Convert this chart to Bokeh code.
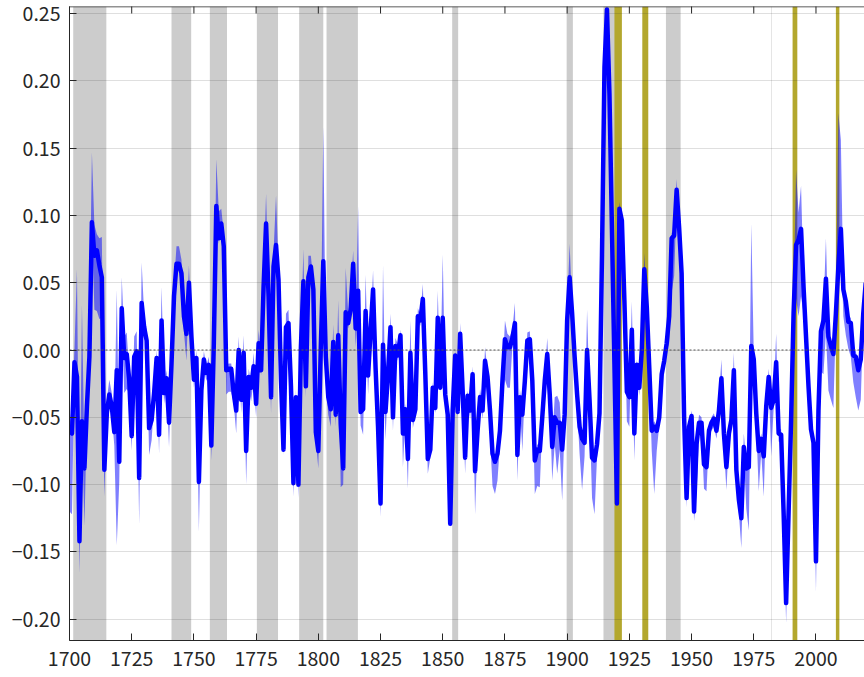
from bokeh.plotting import figure
from bokeh.models import FixedTicker, Span, Range1d
from bokeh.embed import file_html
from bokeh.resources import INLINE

# ---------------- data ----------------
first_year = 1700
values = [
    -0.060, -0.062, -0.009, -0.020, -0.142, -0.053, -0.088, -0.042, -0.005, 0.095,   # 1700s
    0.070, 0.074, 0.063, 0.054, -0.089, -0.047, -0.033, -0.042, -0.061, -0.015,      # 1710s
    -0.083, 0.031, -0.006, -0.003, -0.022, -0.064, -0.005, -0.001, -0.095, 0.035,    # 1720s
    0.017, 0.007, -0.058, -0.052, -0.032, -0.006, -0.063, 0.022, -0.032, -0.021,     # 1730s
    -0.054, -0.010, 0.040, 0.064, 0.064, 0.057, 0.025, 0.012, 0.050, 0.010,          # 1740s
    -0.022, -0.006, -0.098, -0.030, -0.007, -0.017, -0.011, -0.071, 0.005, 0.107,    # 1750s
    0.083, 0.094, 0.077, -0.015, -0.014, -0.014, -0.032, -0.045, 0.000, -0.037,      # 1760s
    -0.002, -0.075, -0.020, -0.028, -0.012, -0.040, 0.005, -0.015, 0.047, 0.094,     # 1770s
    0.040, -0.035, 0.062, 0.078, 0.052, -0.022, -0.074, 0.017, 0.020, -0.027,        # 1780s
    -0.099, -0.035, -0.100, 0.002, 0.051, -0.027, 0.054, 0.062, 0.045, -0.061,       # 1790s
    -0.075, 0.002, 0.066, -0.005, -0.035, -0.044, 0.006, -0.048, 0.011, -0.055,      # 1800s
    -0.088, 0.028, 0.020, 0.030, 0.064, 0.016, 0.044, -0.046, -0.044, 0.029,         # 1810s
    -0.019, 0.014, 0.045, -0.013, -0.057, -0.114, 0.004, -0.046, -0.018, 0.017,      # 1820s
    -0.050, 0.003, -0.004, 0.011, -0.062, -0.044, -0.081, -0.002, -0.052, -0.044,    # 1830s
    0.025, 0.022, 0.038, -0.018, -0.081, -0.074, -0.028, -0.043, 0.024, -0.028,      # 1840s
    0.024, -0.033, -0.048, -0.129, -0.045, -0.004, -0.046, 0.012, -0.030, -0.080,    # 1850s
    -0.034, -0.045, -0.018, -0.090, -0.060, -0.035, -0.045, -0.008, -0.020, -0.045,  # 1860s
    -0.077, -0.083, -0.077, -0.060, -0.023, 0.008, 0.002, 0.002, 0.009, 0.020,       # 1870s
    -0.078, -0.035, -0.048, -0.023, 0.007, 0.008, -0.023, -0.082, -0.074, -0.075,    # 1880s
    -0.050, -0.023, -0.003, -0.033, -0.072, -0.050, -0.054, -0.054, -0.074, -0.048,  # 1890s
    0.022, 0.054, 0.027, -0.005, -0.033, -0.057, -0.066, -0.069, 0.000, -0.037,      # 1900s
    -0.080, -0.082, -0.070, -0.047, 0.070, 0.210, 0.253, 0.190, 0.090, -0.010,       # 1910s
    -0.114, 0.105, 0.096, 0.037, -0.031, -0.035, 0.015, -0.062, -0.011, -0.028,      # 1920s
    0.000, 0.060, 0.032, -0.013, -0.060, -0.057, -0.060, -0.050, -0.018, -0.008,     # 1930s
    0.005, 0.025, 0.083, 0.085, 0.119, 0.091, 0.057, -0.050, -0.110, -0.057,         # 1940s
    -0.049, -0.120, -0.070, -0.054, -0.054, -0.085, -0.087, -0.060, -0.054, -0.051,  # 1950s
    -0.060, -0.045, -0.021, -0.062, -0.087, -0.062, -0.052, -0.015, -0.089, -0.111,  # 1960s
    -0.125, -0.072, -0.088, -0.087, 0.003, -0.007, -0.047, -0.075, -0.066, -0.079,   # 1970s
    -0.042, -0.020, -0.043, -0.037, -0.009, -0.062, -0.063, -0.121, -0.188, -0.120,  # 1980s
    -0.052, 0.027, 0.078, 0.082, 0.090, 0.047, 0.010, -0.027, -0.059, -0.069,        # 1990s
    -0.157, -0.045, 0.014, 0.022, 0.053, 0.010, 0.003, -0.003, 0.027, 0.062,         # 2000s
    0.090, 0.045, 0.036, 0.021, 0.020, -0.004, -0.005, -0.015, -0.007, 0.027,        # 2010s
    0.050,                                                                            # 2020
]

# distance of the upper edge of the shaded band above the line
band_up = [
    0.004, 0.020, 0.010, 0.080, 0.004, 0.087, 0.010, 0.010, 0.020, 0.052,
    0.023, 0.012, 0.020, 0.030, 0.004, 0.010, 0.011, 0.010, 0.004, 0.060,
    0.010, 0.023, 0.016, 0.016, 0.005, 0.004, 0.015, 0.015, 0.004, 0.030,
    0.010, 0.008, 0.004, 0.006, 0.008, 0.006, 0.004, 0.025, 0.006, 0.006,
    0.004, 0.006, 0.010, 0.013, 0.013, 0.010, 0.006, 0.006, 0.013, 0.006,
    0.004, 0.006, 0.004, 0.006, 0.006, 0.005, 0.006, 0.004, 0.006, 0.035,
    0.020, 0.011, 0.010, 0.004, 0.004, 0.004, 0.004, 0.004, 0.010, 0.004,
    0.013, 0.004, 0.006, 0.004, 0.010, 0.004, 0.010, 0.006, 0.010, 0.022,
    0.006, 0.004, 0.010, 0.037, 0.010, 0.008, 0.004, 0.010, 0.010, 0.004,
    0.004, 0.006, 0.004, 0.006, 0.024, 0.004, 0.016, 0.008, 0.006, 0.004,
    0.004, 0.006, 0.100, 0.006, 0.004, 0.004, 0.013, 0.004, 0.026, 0.004,
    0.004, 0.033, 0.008, 0.010, 0.010, 0.004, 0.063, 0.004, 0.004, 0.027,
    0.004, 0.006, 0.014, 0.004, 0.004, 0.004, 0.059, 0.004, 0.006, 0.010,
    0.004, 0.006, 0.008, 0.004, 0.004, 0.004, 0.004, 0.024, 0.004, 0.004,
    0.006, 0.004, 0.011, 0.004, 0.004, 0.004, 0.004, 0.004, 0.020, 0.004,
    0.047, 0.004, 0.004, 0.004, 0.006, 0.004, 0.004, 0.008, 0.004, 0.004,
    0.004, 0.004, 0.006, 0.004, 0.004, 0.006, 0.004, 0.010, 0.004, 0.004,
    0.004, 0.004, 0.004, 0.004, 0.004, 0.014, 0.010, 0.008, 0.006, 0.015,
    0.004, 0.006, 0.004, 0.004, 0.006, 0.006, 0.004, 0.004, 0.004, 0.004,
    0.004, 0.004, 0.012, 0.004, 0.004, 0.015, 0.020, 0.015, 0.004, 0.004,
    0.006, 0.025, 0.004, 0.004, 0.004, 0.004, 0.004, 0.004, 0.030, 0.004,
    0.004, 0.004, 0.004, 0.004, 0.004, 0.004, 0.004, 0.004, 0.004, 0.004,
    0.004, 0.005, 0.004, 0.004, 0.004, 0.004, 0.021, 0.004, 0.004, 0.004,
    0.004, 0.012, 0.004, 0.004, 0.004, 0.004, 0.004, 0.004, 0.004, 0.004,
    0.004, 0.004, 0.004, 0.004, 0.008, 0.004, 0.004, 0.004, 0.004, 0.004,
    0.004, 0.004, 0.004, 0.006, 0.004, 0.004, 0.004, 0.004, 0.004, 0.004,
    0.004, 0.010, 0.014, 0.004, 0.004, 0.004, 0.004, 0.013, 0.004, 0.004,
    0.004, 0.010, 0.004, 0.004, 0.091, 0.004, 0.004, 0.004, 0.004, 0.004,
    0.004, 0.006, 0.004, 0.004, 0.021, 0.004, 0.004, 0.004, 0.004, 0.004,
    0.004, 0.010, 0.056, 0.020, 0.032, 0.006, 0.004, 0.004, 0.004, 0.004,
    0.004, 0.004, 0.006, 0.006, 0.030, 0.004, 0.004, 0.004, 0.004, 0.114,
    0.066, 0.004, 0.004, 0.004, 0.004, 0.004, 0.004, 0.004, 0.004, 0.004,
    0.004,
]

# distance of the lower edge of the shaded band below the line
band_dn = [
    0.060, 0.060, 0.004, 0.004, 0.024, 0.004, 0.043, 0.010, 0.010, 0.004,
    0.040, 0.045, 0.040, 0.030, 0.020, 0.006, 0.006, 0.006, 0.010, 0.130,
    0.015, 0.006, 0.026, 0.026, 0.010, 0.011, 0.006, 0.004, 0.035, 0.004,
    0.006, 0.006, 0.020, 0.015, 0.006, 0.006, 0.014, 0.004, 0.008, 0.006,
    0.018, 0.004, 0.004, 0.005, 0.005, 0.010, 0.012, 0.020, 0.006, 0.006,
    0.006, 0.006, 0.037, 0.006, 0.006, 0.006, 0.006, 0.011, 0.004, 0.004,
    0.004, 0.004, 0.004, 0.018, 0.017, 0.017, 0.008, 0.017, 0.004, 0.010,
    0.004, 0.025, 0.010, 0.010, 0.010, 0.010, 0.004, 0.004, 0.004, 0.004,
    0.004, 0.012, 0.004, 0.004, 0.004, 0.004, 0.004, 0.004, 0.004, 0.006,
    0.010, 0.006, 0.010, 0.004, 0.004, 0.008, 0.004, 0.004, 0.004, 0.006,
    0.013, 0.004, 0.004, 0.020, 0.013, 0.013, 0.004, 0.009, 0.004, 0.047,
    0.012, 0.004, 0.004, 0.004, 0.004, 0.014, 0.004, 0.010, 0.019, 0.004,
    0.014, 0.004, 0.004, 0.004, 0.006, 0.010, 0.004, 0.021, 0.006, 0.004,
    0.010, 0.004, 0.004, 0.004, 0.025, 0.006, 0.022, 0.004, 0.006, 0.004,
    0.004, 0.004, 0.004, 0.006, 0.011, 0.006, 0.006, 0.004, 0.004, 0.004,
    0.004, 0.006, 0.006, 0.004, 0.004, 0.004, 0.004, 0.004, 0.006, 0.012,
    0.004, 0.006, 0.004, 0.032, 0.006, 0.004, 0.006, 0.004, 0.006, 0.020,
    0.024, 0.024, 0.020, 0.010, 0.010, 0.030, 0.030, 0.030, 0.006, 0.004,
    0.019, 0.006, 0.027, 0.006, 0.004, 0.006, 0.006, 0.025, 0.027, 0.027,
    0.006, 0.004, 0.004, 0.006, 0.025, 0.020, 0.038, 0.020, 0.038, 0.006,
    0.004, 0.004, 0.004, 0.006, 0.010, 0.020, 0.038, 0.010, 0.004, 0.010,
    0.030, 0.040, 0.010, 0.006, 0.004, 0.004, 0.004, 0.004, 0.004, 0.004,
    0.004, 0.004, 0.004, 0.004, 0.022, 0.022, 0.004, 0.020, 0.004, 0.006,
    0.004, 0.004, 0.004, 0.006, 0.015, 0.050, 0.015, 0.006, 0.006, 0.006,
    0.006, 0.020, 0.040, 0.030, 0.010, 0.006, 0.006, 0.004, 0.007, 0.006,
    0.006, 0.007, 0.037, 0.008, 0.006, 0.018, 0.018, 0.006, 0.006, 0.006,
    0.006, 0.006, 0.004, 0.010, 0.017, 0.006, 0.006, 0.004, 0.010, 0.010,
    0.022, 0.006, 0.030, 0.047, 0.004, 0.006, 0.010, 0.030, 0.010, 0.030,
    0.006, 0.004, 0.036, 0.006, 0.004, 0.006, 0.006, 0.010, 0.015, 0.006,
    0.004, 0.004, 0.040, 0.057, 0.050, 0.020, 0.010, 0.006, 0.006, 0.006,
    0.023, 0.006, 0.030, 0.040, 0.040, 0.040, 0.040, 0.040, 0.006, 0.004,
    0.006, 0.020, 0.025, 0.020, 0.025, 0.020, 0.030, 0.030, 0.030, 0.006,
    0.006,
]

# grey shaded periods (wars)
war_start = [1701.5, 1741.0, 1756.4, 1775.3, 1792.3, 1803.3, 1853.8, 1899.8, 1914.6, 1939.7, 1982.0]
war_end   = [1714.8, 1748.9, 1763.3, 1783.8, 1802.0, 1815.9, 1856.2, 1902.3, 1919.2, 1945.6, 1982.2]

# olive marked periods
crisis_start = [1919.0, 1930.2, 1990.6, 2008.0]
crisis_end   = [1922.0, 1932.6, 1992.5, 2009.4]

x_ticks = [1700, 1725, 1750, 1775, 1800, 1825, 1850, 1875, 1900, 1925, 1950, 1975, 2000]
y_ticks = [-0.2, -0.15, -0.1, -0.05, 0, 0.05, 0.1, 0.15, 0.2, 0.25]
y_tick_labels = ["\u22120.20", "\u22120.15", "\u22120.10", "\u22120.05", "0.00",
                 "0.05", "0.10", "0.15", "0.20", "0.25"]

x_lo, x_hi = 1700, 2019.5
y_lo, y_hi = -0.2158, 0.2552

# ---------------- derived ----------------
years = list(range(first_year, first_year + len(values)))
assert len(band_up) == len(values) and len(band_dn) == len(values)
upper = [v + u for v, u in zip(values, band_up)]
lower = [v - d for v, d in zip(values, band_dn)]

FONT = "Noto Sans CJK JP"
INK = "#262626"
FRAME_W, FRAME_H = 795, 634
TICK_PX = 7

p = figure(frame_width=FRAME_W, frame_height=FRAME_H,
           x_range=Range1d(x_lo, x_hi), y_range=Range1d(y_lo, y_hi),
           output_backend="svg", toolbar_location=None,
           min_border_left=69, min_border_right=0, min_border_top=6, min_border_bottom=37,
           background_fill_color="white", border_fill_color="white")
p.outline_line_color = None

# shaded periods
p.quad(left=war_start, right=war_end, bottom=y_lo, top=y_hi,
       fill_color="#cccccc", line_color=None, level="underlay")
p.quad(left=crisis_start, right=crisis_end, bottom=y_lo, top=y_hi,
       fill_color="#b3a72d", line_color=None, level="underlay")

# grid
p.xgrid.visible = False
p.ygrid.ticker = FixedTicker(ticks=y_ticks)
p.ygrid.grid_line_color = INK
p.ygrid.grid_line_alpha = 0.15
p.ygrid.grid_line_width = 1
p.ygrid.level = "glyph"

zero = Span(location=0, dimension="width", line_color="#555555", line_width=1,
            line_dash="2 2", level="glyph")
p.add_layout(zero)

# band and line
p.varea(x=years, y1=lower, y2=upper, fill_color="#0000ff", fill_alpha=0.5)
p.line(x=years, y=values, line_color="#0000ff", line_width=4.5, line_join="round")

# top box edge with inward ticks (no labels)
top_edge = Span(location=y_hi, dimension="width", line_color=INK, line_width=1.5,
                level="overlay")
p.add_layout(top_edge)
tick_len = (y_hi - y_lo) * TICK_PX / FRAME_H
p.segment(x0=x_ticks, x1=x_ticks, y0=[y_hi] * len(x_ticks),
          y1=[y_hi - tick_len] * len(x_ticks), line_color=INK, line_width=1,
          level="overlay")

# axes
xa = p.xaxis[0]
ya = p.yaxis[0]
xa.ticker = FixedTicker(ticks=x_ticks)
ya.ticker = FixedTicker(ticks=y_ticks)
ya.major_label_overrides = dict(zip(y_ticks, y_tick_labels))

for ax in (xa, ya):
    ax.axis_line_color = INK
    ax.axis_line_width = 1
    ax.major_tick_line_color = INK
    ax.major_tick_in = TICK_PX
    ax.major_tick_out = 0
    ax.minor_tick_line_color = None
    ax.major_label_text_color = INK
    ax.major_label_text_font = FONT
    ax.major_label_text_font_size = "19.5px"
xa.major_label_standoff = 10
ya.major_label_standoff = 9

open("out.html", "w").write(file_html(p, INLINE))
